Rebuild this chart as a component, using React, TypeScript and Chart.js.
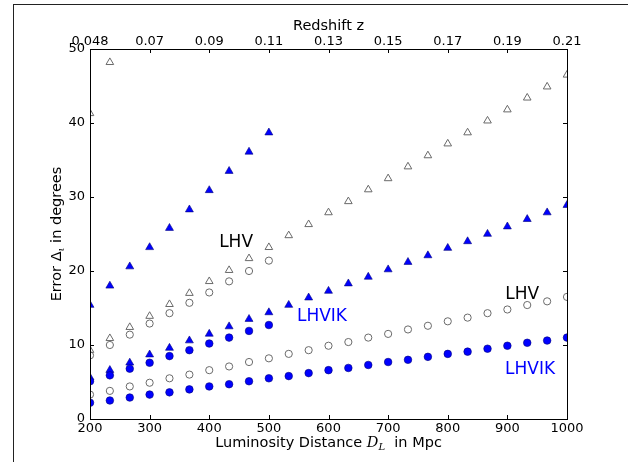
import React, { useEffect, useRef } from 'react';
import { Chart, registerables } from 'chart.js';

Chart.register(...registerables);

// Luminosity distance (Mpc) sample points
const distances = [200, 233.3, 266.7, 300, 333.3, 366.7, 400, 433.3, 466.7, 500, 533.3, 566.7, 600, 633.3, 666.7, 700, 733.3, 766.7, 800, 833.3, 866.7, 900, 933.3, 966.7, 1000];
const xTicks = [200, 300, 400, 500, 600, 700, 800, 900, 1000];
const xTickLabels = ['200', '300', '400', '500', '600', '700', '800', '900', '1000'];
const redshiftLabels = ['0.048', '0.07', '0.09', '0.11', '0.13', '0.15', '0.17', '0.19', '0.21'];
const yTicks = [0, 10, 20, 30, 40, 50];

// LHV network (open grey markers)
const lhvTriHigh = [41.3, 48.2];
const lhvTriLow = [9.3, 10.9, 12.4, 13.9, 15.5, 17.0, 18.6, 20.1, 21.7, 23.2, 24.8, 26.3, 27.9, 29.4, 31.0, 32.5, 34.1, 35.6, 37.2, 38.7, 40.3, 41.8, 43.4, 44.9, 46.5];
const lhvCircHigh = [8.6, 10.0, 11.4, 12.9, 14.3, 15.7, 17.1, 18.6, 20.0, 21.4];
const lhvCircLow = [3.3, 3.8, 4.4, 4.9, 5.5, 6.0, 6.6, 7.1, 7.7, 8.2, 8.8, 9.3, 9.9, 10.4, 11.0, 11.5, 12.1, 12.6, 13.2, 13.7, 14.3, 14.8, 15.4, 15.9, 16.5];

// LHVIK network (filled blue markers)
const lhvikTriHigh = [15.4, 18.0, 20.6, 23.2, 25.8, 28.3, 30.9, 33.5, 36.1, 38.7];
const lhvikTriLow = [5.6, 6.6, 7.6, 8.7, 9.6, 10.6, 11.5, 12.5, 13.5, 14.4, 15.4, 16.4, 17.3, 18.3, 19.2, 20.2, 21.2, 22.1, 23.1, 24.0, 25.0, 26.0, 27.0, 27.9, 28.9];
const lhvikCircHigh = [5.1, 5.9, 6.8, 7.6, 8.5, 9.3, 10.2, 11.0, 11.9, 12.7];
const lhvikCircLow = [2.2, 2.5, 2.9, 3.3, 3.6, 4.0, 4.4, 4.7, 5.1, 5.5, 5.8, 6.2, 6.6, 6.9, 7.3, 7.7, 8.0, 8.4, 8.8, 9.1, 9.5, 9.9, 10.3, 10.6, 11.0];

const noteTexts = ['LHV', 'LHVIK', 'LHV', 'LHVIK'];
const noteX = [445, 589, 925, 938];
const noteY = [23.8, 13.8, 16.8, 6.7];
const noteColors = ['#000000', '#0000ff', '#000000', '#0000ff'];

const SANS = "'DejaVu Sans', sans-serif";
const SERIF = "'DejaVu Serif', serif";

const toPoints = (vals: number[]) => vals.map((v, i) => ({ x: distances[i], y: v }));

type Part = { text: string; font: string; dy?: number };
function drawRich(ctx: CanvasRenderingContext2D, parts: Part[], cx: number, cy: number) {
  let total = 0;
  for (const p of parts) {
    ctx.font = p.font;
    total += ctx.measureText(p.text).width;
  }
  let x = cx - total / 2;
  ctx.textAlign = 'left';
  ctx.textBaseline = 'middle';
  for (const p of parts) {
    ctx.font = p.font;
    ctx.fillText(p.text, x, cy + (p.dy || 0));
    x += ctx.measureText(p.text).width;
  }
}

const decorPlugin = {
  id: 'decor',
  afterDatasetsDraw(chart: any) {
    const { ctx, scales } = chart;
    const xs = scales.x;
    const ys = scales.y;
    ctx.save();
    ctx.font = `17px ${SANS}`;
    ctx.textAlign = 'center';
    ctx.textBaseline = 'middle';
    noteTexts.forEach((t, i) => {
      ctx.fillStyle = noteColors[i];
      ctx.fillText(t, xs.getPixelForValue(noteX[i]), ys.getPixelForValue(noteY[i]));
    });
    ctx.restore();
  },
  afterDraw(chart: any) {
    const { ctx, chartArea: a, scales } = chart;
    const xs = scales.x;
    const ys = scales.y;
    ctx.save();
    ctx.strokeStyle = '#000';
    ctx.lineWidth = 1;
    ctx.strokeRect(Math.round(a.left) + 0.5, Math.round(a.top) + 0.5, Math.round(a.right - a.left), Math.round(a.bottom - a.top));
    const tl = 4;
    ctx.beginPath();
    xTicks.forEach((v) => {
      const px = Math.round(xs.getPixelForValue(v)) + 0.5;
      ctx.moveTo(px, a.bottom);
      ctx.lineTo(px, a.bottom - tl);
      ctx.moveTo(px, a.top);
      ctx.lineTo(px, a.top + tl);
    });
    yTicks.forEach((v) => {
      const py = Math.round(ys.getPixelForValue(v)) + 0.5;
      ctx.moveTo(a.left, py);
      ctx.lineTo(a.left + tl, py);
      ctx.moveTo(a.right, py);
      ctx.lineTo(a.right - tl, py);
    });
    ctx.stroke();

    ctx.fillStyle = '#000';
    const cx = (a.left + a.right) / 2;
    const cy = (a.top + a.bottom) / 2;
    drawRich(ctx, [{ text: 'Redshift z', font: `14.5px ${SANS}` }], cx, 26);
    drawRich(
      ctx,
      [
        { text: 'Luminosity Distance ', font: `14.5px ${SANS}` },
        { text: 'D', font: `italic 14.5px ${SERIF}` },
        { text: 'L', font: `italic 10px ${SERIF}`, dy: 4 },
        { text: '  in Mpc', font: `14.5px ${SANS}` },
      ],
      cx,
      443
    );
    ctx.translate(57, cy);
    ctx.rotate(-Math.PI / 2);
    drawRich(
      ctx,
      [
        { text: 'Error ', font: `14.5px ${SANS}` },
        { text: 'Δ', font: `14.5px ${SANS}` },
        { text: 'ι', font: `italic 10px ${SERIF}`, dy: 4 },
        { text: ' in degrees', font: `14.5px ${SANS}` },
      ],
      0,
      0
    );
    ctx.restore();
  },
};

export default function App() {
  const ref = useRef<HTMLCanvasElement | null>(null);

  useEffect(() => {
    if (!ref.current) return;
    const grey = '#6a6a6a';
    const blue = '#0000ff';
    const edge = '#00007a';
    const open = (label: string, vals: number[], style: string, r: number) => ({
      label,
      data: toPoints(vals),
      pointStyle: style,
      pointRadius: r,
      pointBackgroundColor: 'rgba(255,255,255,0)',
      pointBorderColor: grey,
      pointBorderWidth: 1,
      clip: 0,
    });
    const filled = (label: string, vals: number[], style: string, r: number) => ({
      label,
      data: toPoints(vals),
      pointStyle: style,
      pointRadius: r,
      pointBackgroundColor: blue,
      pointBorderColor: edge,
      pointBorderWidth: 0.6,
      clip: 0,
    });
    const tickFont = { family: SANS, size: 13 };
    const chart = new Chart(ref.current, {
      type: 'scatter',
      data: {
        datasets: [
          filled('LHVIK circles (low)', lhvikCircLow, 'circle', 3.8),
          filled('LHVIK circles (high)', lhvikCircHigh, 'circle', 3.8),
          filled('LHVIK triangles (low)', lhvikTriLow, 'triangle', 4.6),
          filled('LHVIK triangles (high)', lhvikTriHigh, 'triangle', 4.6),
          open('LHV circles (low)', lhvCircLow, 'circle', 3.6),
          open('LHV circles (high)', lhvCircHigh, 'circle', 3.6),
          open('LHV triangles (low)', lhvTriLow, 'triangle', 4.4),
          open('LHV triangles (high)', lhvTriHigh, 'triangle', 4.4),
        ] as any,
      },
      options: {
        animation: false,
        responsive: false,
        events: [],
        layout: { padding: { left: 0, right: 61, top: 0, bottom: 0 } },
        plugins: { legend: { display: false }, tooltip: { enabled: false } },
        scales: {
          x: {
            type: 'linear',
            position: 'bottom',
            min: 200,
            max: 1000,
            afterBuildTicks: (s: any) => {
              s.ticks = xTicks.map((v) => ({ value: v }));
            },
            ticks: {
              font: tickFont,
              color: '#000',
              padding: 2,
              maxRotation: 0,
              autoSkip: false,
              callback: (_v: any, i: number) => xTickLabels[i],
            },
            grid: { display: false, drawTicks: false },
            border: { display: false },
            afterFit: (s: any) => {
              s.height = 43;
            },
          },
          x2: {
            type: 'linear',
            position: 'top',
            min: 200,
            max: 1000,
            afterBuildTicks: (s: any) => {
              s.ticks = xTicks.map((v) => ({ value: v }));
            },
            ticks: {
              font: tickFont,
              color: '#000',
              padding: 0,
              maxRotation: 0,
              autoSkip: false,
              callback: (_v: any, i: number) => redshiftLabels[i],
            },
            grid: { display: false, drawTicks: false },
            border: { display: false },
            afterFit: (s: any) => {
              s.height = 49;
            },
          },
          y: {
            type: 'linear',
            min: 0,
            max: 50,
            afterBuildTicks: (s: any) => {
              s.ticks = yTicks.map((v) => ({ value: v }));
            },
            ticks: { font: tickFont, color: '#000', padding: 5, autoSkip: false },
            grid: { display: false, drawTicks: false },
            border: { display: false },
            afterFit: (s: any) => {
              s.width = 90;
            },
          },
        },
      },
      plugins: [decorPlugin],
    } as any);
    return () => chart.destroy();
  }, []);

  return (
    <div style={{ position: 'fixed', left: 0, top: 0, width: 628, height: 462, background: '#fff', overflow: 'hidden' }}>
      <canvas ref={ref} width={628} height={462} style={{ position: 'absolute', left: 0, top: 0, width: 628, height: 462 }} />
      <div
        style={{
          position: 'absolute',
          left: 13,
          top: 4,
          width: 700,
          height: 500,
          borderTop: '1px solid #222',
          borderLeft: '1px solid #222',
          pointerEvents: 'none',
        }}
      />
    </div>
  );
}
